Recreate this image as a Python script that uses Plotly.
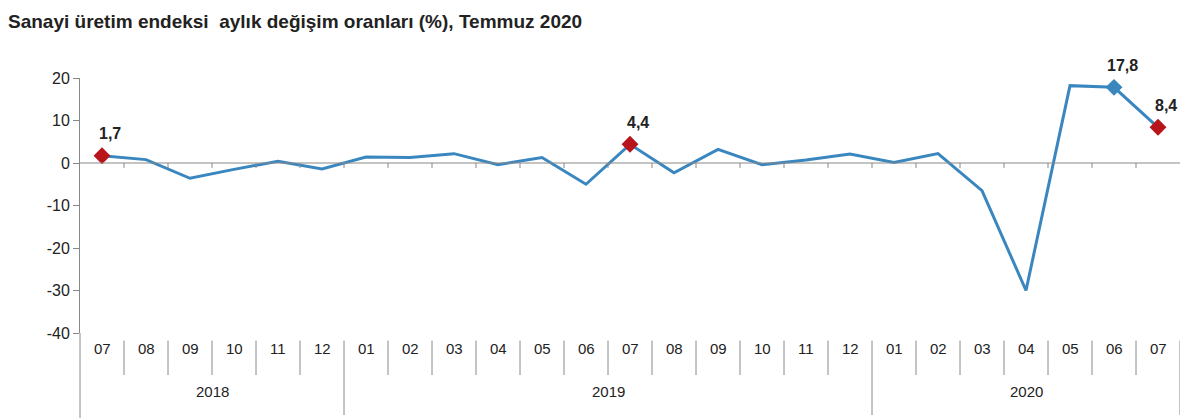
import plotly.graph_objects as go

months = ["07","08","09","10","11","12","01","02","03","04","05","06","07","08","09","10","11","12","01","02","03","04","05","06","07"]
years = ["2018", "2019", "2020"]
year_spans = [(0, 5), (6, 17), (18, 24)]
values = [1.7, 0.8, -3.6, -1.5, 0.4, -1.4, 1.4, 1.3, 2.2, -0.4, 1.3, -5.0, 4.4, -2.3, 3.2, -0.4, 0.7, 2.1, 0.1, 2.2, -6.5, -30.0, 18.2, 17.8, 8.4]
red_idx = [0, 12, 24]
blue_idx = [23]
label_text = {0: "1,7", 12: "4,4", 23: "17,8", 24: "8,4"}
ytick_vals = [-40, -30, -20, -10, 0, 10, 20]
ytick_text = ["-40", "-30", "-20", "-10", "0", "10", "20"]

x = list(range(len(values)))
fig = go.Figure()
fig.add_trace(go.Scatter(x=x, y=values, mode="lines", line=dict(color="#3A87C0", width=3), hoverinfo="skip"))
fig.add_trace(go.Scatter(x=red_idx, y=[values[i] for i in red_idx], mode="markers",
                         marker=dict(symbol="diamond", size=13, color="#B8141B")))
fig.add_trace(go.Scatter(x=blue_idx, y=[values[i] for i in blue_idx], mode="markers",
                         marker=dict(symbol="diamond", size=13, color="#3A87C0")))

shapes = []
ph = 255.0
shapes.append(dict(type="line", xref="paper", yref="y", x0=0, x1=1, y0=0, y1=0, line=dict(color="#888", width=1)))
for b in range(1, len(values)):
    shapes.append(dict(type="line", xref="x", yref="y", x0=b-0.5, x1=b-0.5, y0=0, y1=-1.2, line=dict(color="#888", width=1)))
    longer = (b - 0.5) in (5.5, 17.5)
    shapes.append(dict(type="line", xref="x", yref="paper", x0=b-0.5, x1=b-0.5, y0=-0.03,
                       y1=-(82/ph) if longer else -(42/ph), line=dict(color="#888", width=1)))
shapes.append(dict(type="line", xref="x", yref="paper", x0=24.5, x1=24.5, y0=-0.03, y1=-(82/ph), line=dict(color="#888", width=1)))
shapes.append(dict(type="line", xref="paper", yref="paper", x0=0, x1=0, y0=0, y1=-(85/ph), line=dict(color="#888", width=1)))

ann = []
for i, m in enumerate(months):
    ann.append(dict(x=i, y=-(26/ph), xref="x", yref="paper", text=m, showarrow=False, font=dict(size=15, color="#222")))
for yname, (a, b) in zip(years, year_spans):
    ann.append(dict(x=(a+b)/2, y=-(69/ph), xref="x", yref="paper", text=yname, showarrow=False, font=dict(size=15, color="#222")))
for i, t in label_text.items():
    ann.append(dict(x=i, y=values[i], xref="x", yref="y", text="<b>"+t+"</b>", showarrow=False,
                    yshift=22, xshift=8, font=dict(size=16, color="#222")))

fig.update_layout(
    width=1200, height=420, margin=dict(l=72, r=28, t=70, b=95),
    plot_bgcolor="white", paper_bgcolor="white", showlegend=False,
    font=dict(family="Arial, Liberation Sans", color="#222"),
    title=dict(text="<b>Sanayi üretim endeksi  aylık değişim oranları (%), Temmuz 2020</b>",
               x=0.0, xanchor="left", y=0.985, yanchor="top", font=dict(size=19, color="#222")),
    xaxis=dict(range=[-0.5, 24.5], showticklabels=False, showgrid=False, zeroline=False, showline=False, ticks=""),
    yaxis=dict(range=[-40, 20], tickvals=ytick_vals, ticktext=ytick_text, showgrid=False, zeroline=False,
               showline=True, linecolor="#888", ticks="outside", ticklen=6, tickcolor="#888",
               tickfont=dict(size=16, color="#222")),
    shapes=shapes, annotations=ann,
)
fig.write_html("out.html")
